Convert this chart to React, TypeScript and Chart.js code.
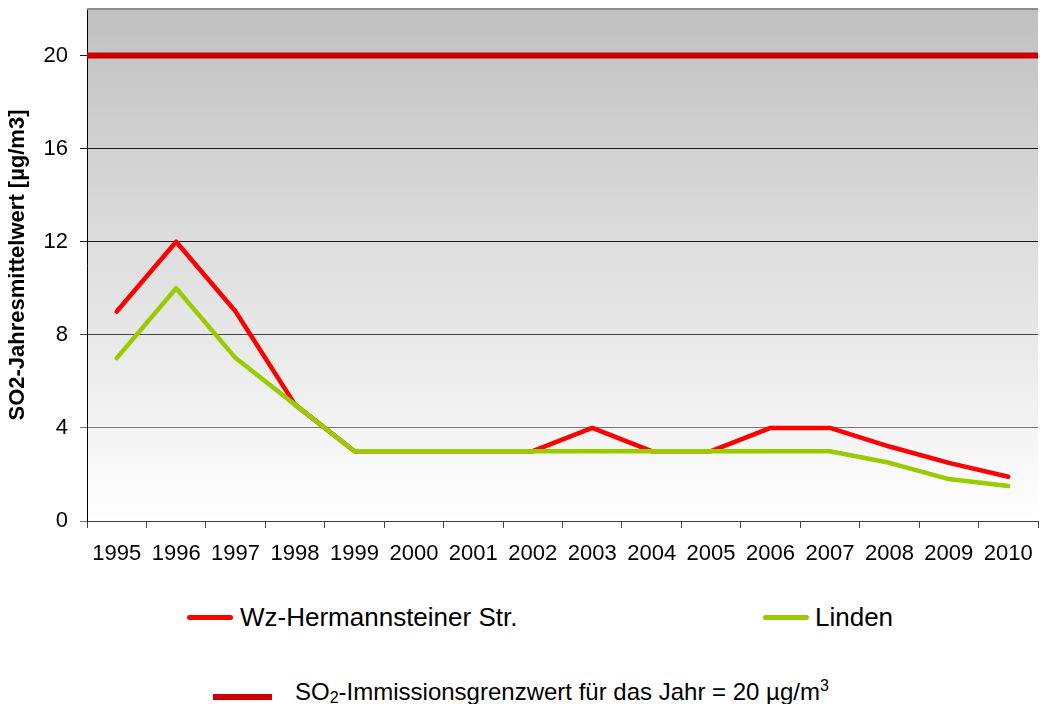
import React, { useEffect, useRef } from "react";
import { Chart, registerables } from "chart.js";

Chart.register(...registerables);

const years = ["1995", "1996", "1997", "1998", "1999", "2000", "2001", "2002", "2003", "2004", "2005", "2006", "2007", "2008", "2009", "2010"];
const wzHermannsteiner = [9, 12, 9, 5, 3, 3, 3, 3, 4, 3, 3, 4, 4, 3.2, 2.5, 1.9];
const linden = [7, 10, 7, 5, 3, 3, 3, 3, 3, 3, 3, 3, 3, 2.5, 1.8, 1.5];
const limitValue = 20;
const yMin = 0;
const yMax = 22;
const yStep = 4;

const FONT = "'Liberation Sans', Arial, Helvetica, sans-serif";

const plotDecor = {
  id: "plotDecor",
  beforeDraw(chart: any) {
    const { ctx, chartArea } = chart;
    const { left, right, top, bottom } = chartArea;
    ctx.save();
    const g = ctx.createLinearGradient(0, top, 0, bottom);
    g.addColorStop(0, "#c0c0c0");
    g.addColorStop(1, "#ffffff");
    ctx.fillStyle = g;
    ctx.fillRect(left, top, right - left, bottom - top);
    ctx.restore();
  },
  afterDraw(chart: any) {
    const { ctx, chartArea } = chart;
    ctx.save();
    ctx.strokeStyle = "#8c8c8c";
    ctx.lineWidth = 2;
    ctx.beginPath();
    ctx.moveTo(chartArea.left, chartArea.top);
    ctx.lineTo(chartArea.right, chartArea.top);
    ctx.stroke();
    ctx.restore();
  },
  afterDatasetsDraw(chart: any) {
    const { ctx, chartArea, scales } = chart;
    const y = scales.y.getPixelForValue(limitValue);
    ctx.save();
    ctx.strokeStyle = "#cc0000";
    ctx.lineWidth = 6;
    ctx.beginPath();
    ctx.moveTo(chartArea.left, y);
    ctx.lineTo(chartArea.right, y);
    ctx.stroke();
    ctx.restore();
  },
};

function ChartCanvas() {
  const ref = useRef<HTMLCanvasElement | null>(null);
  useEffect(() => {
    if (!ref.current) return;
    const chart = new Chart(ref.current, {
      type: "line",
      data: {
        labels: years,
        datasets: [
          {
            label: "Wz-Hermannsteiner Str.",
            data: wzHermannsteiner,
            borderColor: "#ff0000",
            borderWidth: 4.5,
            pointRadius: 0,
            tension: 0,
            borderCapStyle: "round",
            borderJoinStyle: "round",
            order: 1,
          },
          {
            label: "Linden",
            data: linden,
            borderColor: "#99cc00",
            borderWidth: 4.5,
            pointRadius: 0,
            tension: 0,
            borderCapStyle: "round",
            borderJoinStyle: "round",
            order: 0,
          },
        ],
      },
      options: {
        animation: false,
        responsive: false,
        layout: { padding: { left: 0, right: 2, top: 9, bottom: 0 } },
        plugins: {
          legend: { display: false },
          tooltip: { enabled: false },
        },
        scales: {
          x: {
            type: "category",
            offset: true,
            grid: {
              offset: true,
              drawOnChartArea: false,
              drawTicks: true,
              tickLength: 7,
              color: "#444",
            },
            border: { color: "#444", width: 1 },
            ticks: {
              color: "#000",
              font: { family: FONT, size: 22 },
              padding: 13,
              maxRotation: 0,
              autoSkip: false,
            },
            afterFit(scale: any) {
              scale.height = 59;
              scale.paddingLeft = 0;
              scale.paddingRight = 0;
            },
          },
          y: {
            min: yMin,
            max: yMax,
            grid: {
              tickLength: 7,
              color: (c: any) => {
                const v = c.tick ? c.tick.value : 0;
                return v >= 12 ? "#1a1a1a" : v >= 8 ? "#444" : "#777";
              },
            },
            border: { color: "#000", width: 1 },
            ticks: {
              stepSize: yStep,
              includeBounds: false,
              color: "#000",
              font: { family: FONT, size: 22 },
              padding: 12,
            },
            title: {
              display: true,
              text: "SO2-Jahresmittelwert [µg/m3]",
              color: "#000",
              font: { family: FONT, size: 22, weight: "bold" },
              padding: { top: 5, bottom: 0 },
            },
            afterFit(scale: any) {
              scale.width = 87;
              scale.paddingTop = 0;
              scale.paddingBottom = 0;
            },
          },
        },
      },
      plugins: [plotDecor],
    });
    return () => chart.destroy();
  }, []);
  return <canvas ref={ref} width={1040} height={580} style={{ display: "block" }} />;
}

export default function App() {
  const text: React.CSSProperties = { position: "absolute", fontFamily: FONT, color: "#000", whiteSpace: "nowrap" };
  return (
    <div style={{ position: "absolute", left: 0, top: 0, width: 1040, height: 704, background: "#fff", overflow: "hidden" }}>
      <ChartCanvas />
      <div style={{ position: "absolute", left: 187, top: 615, width: 46, height: 5, background: "#ff0000", borderRadius: 3 }} />
      <div style={{ ...text, left: 240, top: 602, fontSize: 26, lineHeight: "30px" }}>Wz-Hermannsteiner Str.</div>
      <div style={{ position: "absolute", left: 763, top: 615, width: 46, height: 5, background: "#99cc00", borderRadius: 3 }} />
      <div style={{ ...text, left: 815, top: 602, fontSize: 26, lineHeight: "30px" }}>Linden</div>
      <div style={{ position: "absolute", left: 213, top: 694, width: 59, height: 6, background: "#cc0000" }} />
      <div style={{ ...text, left: 295, top: 678, fontSize: 24, lineHeight: "28px" }}>
        SO<span style={{ fontSize: 16, lineHeight: 0, position: "relative", top: 3 }}>2</span>-Immissionsgrenzwert für das Jahr = 20 µg/m
        <span style={{ fontSize: 16, lineHeight: 0, position: "relative", top: -9 }}>3</span>
      </div>
    </div>
  );
}
